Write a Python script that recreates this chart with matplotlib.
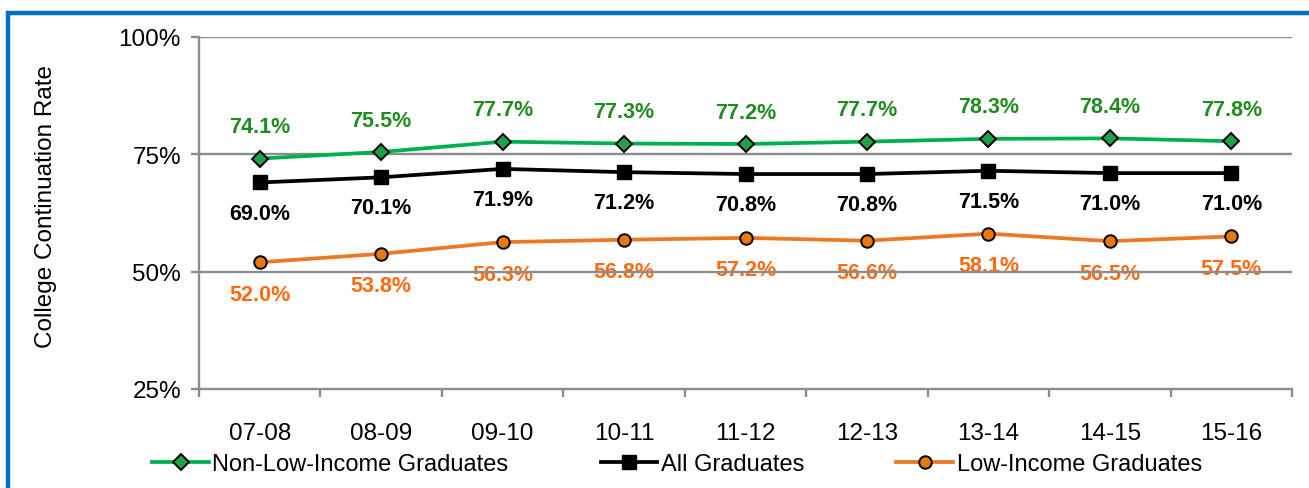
import matplotlib.pyplot as plt
import numpy as np
from matplotlib.patches import Rectangle

plt.rcParams['font.family'] = ['Liberation Sans', 'DejaVu Sans']

years = ['07-08', '08-09', '09-10', '10-11', '11-12', '12-13', '13-14', '14-15', '15-16']
non_low = [74.1, 75.5, 77.7, 77.3, 77.2, 77.7, 78.3, 78.4, 77.8]
all_grads = [69.0, 70.1, 71.9, 71.2, 70.8, 70.8, 71.5, 71.0, 71.0]
low_inc = [52.0, 53.8, 56.3, 56.8, 57.2, 56.6, 58.1, 56.5, 57.5]

fig = plt.figure(figsize=(13.09, 4.89), dpi=100)
ax = fig.add_axes([199/1309, 1 - 390/489, (1292 - 199)/1309, (390 - 38)/489])

x = np.arange(len(years))
grey = '#8c8c8c'

# gridlines drawn on top of the value labels, like the original
for g in [50, 75, 100]:
    ax.axhline(g, color=grey, lw=1.7, zorder=1.5)

ax.plot(x, non_low, color='#00B050', lw=2.7, marker='D', ms=8, mfc='#1FA14A', mec='black', mew=1.4,
        label='Non-Low-Income Graduates', zorder=3)
ax.plot(x, all_grads, color='black', lw=2.7, marker='s', ms=10, mfc='black', mec='black',
        label='All Graduates', zorder=3)
ax.plot(x, low_inc, color='#EE7722', lw=2.7, marker='o', ms=9, mfc='#E8780F', mec='black', mew=1.4,
        label='Low-Income Graduates', zorder=3)

for i in range(len(years)):
    ax.annotate(f'{non_low[i]:.1f}%', (x[i], non_low[i]), xytext=(0, 23), textcoords='offset points',
                ha='center', va='center', fontsize=15.5, fontweight='bold', color='#1E8C1E', zorder=1)
    ax.annotate(f'{all_grads[i]:.1f}%', (x[i], all_grads[i]), xytext=(0, -22), textcoords='offset points',
                ha='center', va='center', fontsize=15.5, fontweight='bold', color='black', zorder=1)
    ax.annotate(f'{low_inc[i]:.1f}%', (x[i], low_inc[i]), xytext=(0, -23), textcoords='offset points',
                ha='center', va='center', fontsize=15.5, fontweight='bold', color='#FF6A10', zorder=1)

ax.set_xlim(-0.5, len(years) - 0.5)
ax.set_ylim(25, 100)
ax.set_yticks([25, 50, 75, 100])
ax.set_yticklabels(['25%', '50%', '75%', '100%'])
ax.set_xticks(x)
ax.set_xticklabels(years)
ax.set_xticks(np.arange(-0.5, len(years)), minor=True)
ax.tick_params(axis='x', which='major', length=0, pad=24, labelsize=17.5)
ax.tick_params(axis='x', which='minor', length=6, width=1.7, color=grey, direction='out')
ax.tick_params(axis='y', length=6, width=1.7, color=grey, direction='out', labelsize=17.5, pad=7)

for s in ['top', 'right']:
    ax.spines[s].set_visible(False)
for s in ['left', 'bottom']:
    ax.spines[s].set_color(grey)
    ax.spines[s].set_linewidth(1.7)

fig.text(46/1309, 1 - 207/489, 'College Continuation Rate', rotation=90, ha='center', va='center', fontsize=17.5)

fig.legend(loc='center', bbox_to_anchor=(677/1309, 1 - 465/489), ncol=3, frameon=False, fontsize=17,
           handlelength=2.4, handletextpad=0.15, columnspacing=3.9)

# blue frame of the slide, partly cut off
fig.patches.append(Rectangle((7.5/1309, -0.1), 1.2, 1 - 14/489 + 0.1, transform=fig.transFigure,
                             fill=False, edgecolor='#0070C0', lw=3.2))

fig.savefig('out.png', dpi=100)
